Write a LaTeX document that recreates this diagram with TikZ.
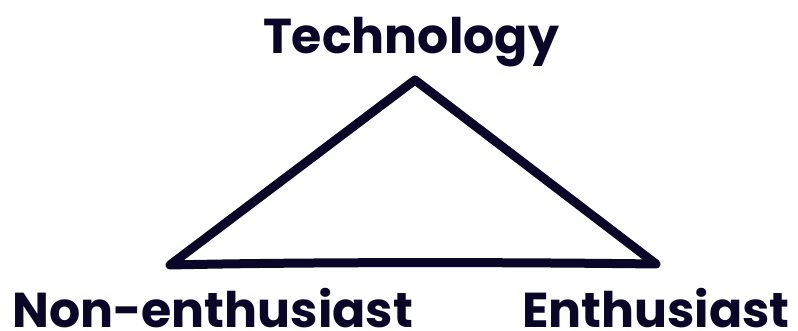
\documentclass[tikz,border=0pt]{standalone}
\usepackage{fontspec}
\setmainfont{Poppins}
\begin{document}
\begin{tikzpicture}[x=1pt,y=-1pt,
  ink/.style={draw=inkcol, line width=9pt, line join=round, line cap=round},
  lbl/.style={text=inkcol, inner sep=0pt, font=\fontsize{49}{49}\selectfont\bfseries}]
\definecolor{inkcol}{RGB}{10,6,40}
\useasboundingbox (0,0) rectangle (798,331);
% corners of the triangle
\coordinate (top) at (415,80);
\coordinate (left) at (170,265);
\coordinate (right) at (656,264);
\draw[ink] (top) -- (right) .. controls (500,262) and (300,262) .. (left) -- cycle;
% corner labels
\node[lbl, anchor=base] (tech) at (411,54) {Technology};
\node[lbl, anchor=base west] (non) at (12,327) {Non-enthusiast};
\node[lbl, anchor=base east] (enth) at (790,327) {Enthusiast};
\end{tikzpicture}
\end{document}
